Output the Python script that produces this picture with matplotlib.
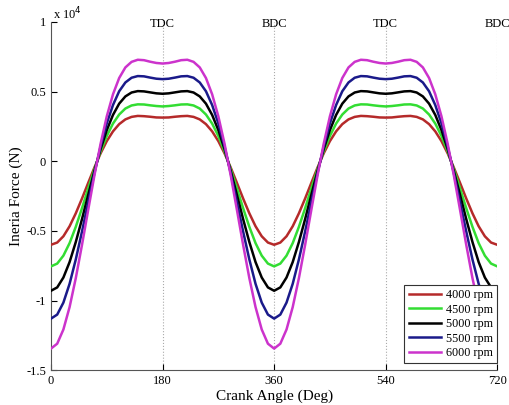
import matplotlib
matplotlib.use("Agg")
import matplotlib.pyplot as plt

plt.rcParams['font.family'] = ['Liberation Serif', 'DejaVu Serif']

crank_angle = list(range(0, 721, 10))

f_4000 = [-0.600, -0.584, -0.539, -0.467, -0.374, -0.268, -0.156, -0.046, 0.056, 0.144,
          0.214, 0.266, 0.300, 0.318, 0.325, 0.323, 0.319, 0.314, 0.313,
          0.314, 0.319, 0.323, 0.325, 0.318, 0.300, 0.266, 0.214, 0.144, 0.056,
          -0.046, -0.156, -0.268, -0.374, -0.467, -0.539, -0.584, -0.600,
          -0.584, -0.539, -0.467, -0.374, -0.268, -0.156, -0.046, 0.056, 0.144,
          0.214, 0.266, 0.300, 0.318, 0.325, 0.323, 0.319, 0.314, 0.313,
          0.314, 0.319, 0.323, 0.325, 0.318, 0.300, 0.266, 0.214, 0.144, 0.056,
          -0.046, -0.156, -0.268, -0.374, -0.467, -0.539, -0.584, -0.600]

f_4500 = [-0.755, -0.735, -0.678, -0.588, -0.471, -0.338, -0.196, -0.058, 0.070, 0.181,
          0.270, 0.335, 0.378, 0.400, 0.408, 0.407, 0.401, 0.396, 0.393,
          0.396, 0.401, 0.407, 0.408, 0.400, 0.378, 0.335, 0.270, 0.181, 0.070,
          -0.058, -0.196, -0.338, -0.471, -0.588, -0.678, -0.735, -0.755,
          -0.735, -0.678, -0.588, -0.471, -0.338, -0.196, -0.058, 0.070, 0.181,
          0.270, 0.335, 0.378, 0.400, 0.408, 0.407, 0.401, 0.396, 0.393,
          0.396, 0.401, 0.407, 0.408, 0.400, 0.378, 0.335, 0.270, 0.181, 0.070,
          -0.058, -0.196, -0.338, -0.471, -0.588, -0.678, -0.735, -0.755]

f_5000 = [-0.930, -0.906, -0.835, -0.724, -0.580, -0.416, -0.242, -0.072, 0.087, 0.223,
          0.332, 0.413, 0.465, 0.493, 0.503, 0.501, 0.494, 0.487, 0.484,
          0.487, 0.494, 0.501, 0.503, 0.493, 0.465, 0.413, 0.332, 0.223, 0.087,
          -0.072, -0.242, -0.416, -0.580, -0.724, -0.835, -0.906, -0.930,
          -0.906, -0.835, -0.724, -0.580, -0.416, -0.242, -0.072, 0.087, 0.223,
          0.332, 0.413, 0.465, 0.493, 0.503, 0.501, 0.494, 0.487, 0.484,
          0.487, 0.494, 0.501, 0.503, 0.493, 0.465, 0.413, 0.332, 0.223, 0.087,
          -0.072, -0.242, -0.416, -0.580, -0.724, -0.835, -0.906, -0.930]

f_5500 = [-1.130, -1.101, -1.015, -0.880, -0.705, -0.505, -0.294, -0.087, 0.105, 0.271,
          0.403, 0.502, 0.565, 0.599, 0.611, 0.609, 0.600, 0.592, 0.589,
          0.592, 0.600, 0.609, 0.611, 0.599, 0.565, 0.502, 0.403, 0.271, 0.105,
          -0.087, -0.294, -0.505, -0.705, -0.880, -1.015, -1.101, -1.130,
          -1.101, -1.015, -0.880, -0.705, -0.505, -0.294, -0.087, 0.105, 0.271,
          0.403, 0.502, 0.565, 0.599, 0.611, 0.609, 0.600, 0.592, 0.589,
          0.592, 0.600, 0.609, 0.611, 0.599, 0.565, 0.502, 0.403, 0.271, 0.105,
          -0.087, -0.294, -0.505, -0.705, -0.880, -1.015, -1.101, -1.130]

f_6000 = [-1.345, -1.310, -1.208, -1.047, -0.839, -0.601, -0.350, -0.103, 0.125, 0.322,
          0.480, 0.597, 0.673, 0.713, 0.728, 0.725, 0.714, 0.705, 0.701,
          0.705, 0.714, 0.725, 0.728, 0.713, 0.673, 0.597, 0.480, 0.322, 0.125,
          -0.103, -0.350, -0.601, -0.839, -1.047, -1.208, -1.310, -1.345,
          -1.310, -1.208, -1.047, -0.839, -0.601, -0.350, -0.103, 0.125, 0.322,
          0.480, 0.597, 0.673, 0.713, 0.728, 0.725, 0.714, 0.705, 0.701,
          0.705, 0.714, 0.725, 0.728, 0.713, 0.673, 0.597, 0.480, 0.322, 0.125,
          -0.103, -0.350, -0.601, -0.839, -1.047, -1.208, -1.310, -1.345]

series = [f_4000, f_4500, f_5000, f_5500, f_6000]
labels = ['4000 rpm', '4500 rpm', '5000 rpm', '5500 rpm', '6000 rpm']
colors = ['#b52a2a', '#33dd33', '#000000', '#1a1a8a', '#cc33cc']

dead_centres = [180, 360, 540, 720]
dc_labels = ['TDC', 'BDC', 'TDC', 'BDC']

x_ticks = [0, 180, 360, 540, 720]
y_ticks = [-1.5, -1, -0.5, 0, 0.5, 1]
y_tick_labels = ['-1.5', '-1', '-0.5', '0', '0.5', '1']

fig = plt.figure(figsize=(5.10, 4.05), dpi=100)
ax = fig.add_axes([0.10, 0.086, 0.875, 0.86])

for xv in dead_centres:
    ax.axvline(xv, color='#aaaaaa', linestyle=':', linewidth=0.8, zorder=1)

for ys, lab, col in zip(series, labels, colors):
    ax.plot(crank_angle, ys, color=col, linewidth=1.8, label=lab, zorder=3,
            solid_joinstyle='round')

for xv, t in zip(dead_centres, dc_labels):
    ax.text(xv, 0.985, t, ha='center', va='center', fontsize=9, clip_on=False)

ax.set_xlim(0, 720)
ax.set_ylim(-1.5, 1)
ax.set_xticks(x_ticks)
ax.set_yticks(y_ticks)
ax.set_yticklabels(y_tick_labels)
ax.tick_params(direction='in', labelsize=9, length=4)
ax.spines['top'].set_visible(False)
ax.spines['right'].set_visible(False)
ax.spines['left'].set_color('#555555')
ax.spines['bottom'].set_color('#555555')

ax.set_xlabel('Crank Angle (Deg)', fontsize=11, labelpad=2)
ax.set_ylabel('Ineria Force (N)', fontsize=11, labelpad=2)

ax.text(0.005, 1.0, r'x 10$^4$', transform=ax.transAxes, ha='left', va='bottom', fontsize=9)

leg = ax.legend(loc='lower right', bbox_to_anchor=(1.0, 0.02), fontsize=8.7,
                frameon=True, fancybox=False, framealpha=1.0, handlelength=2.7,
                borderaxespad=0.0, labelspacing=0.2, borderpad=0.35, handletextpad=0.4)
leg.get_frame().set_edgecolor('#333333')
leg.get_frame().set_linewidth(0.8)

fig.savefig('out.png', dpi=100)
